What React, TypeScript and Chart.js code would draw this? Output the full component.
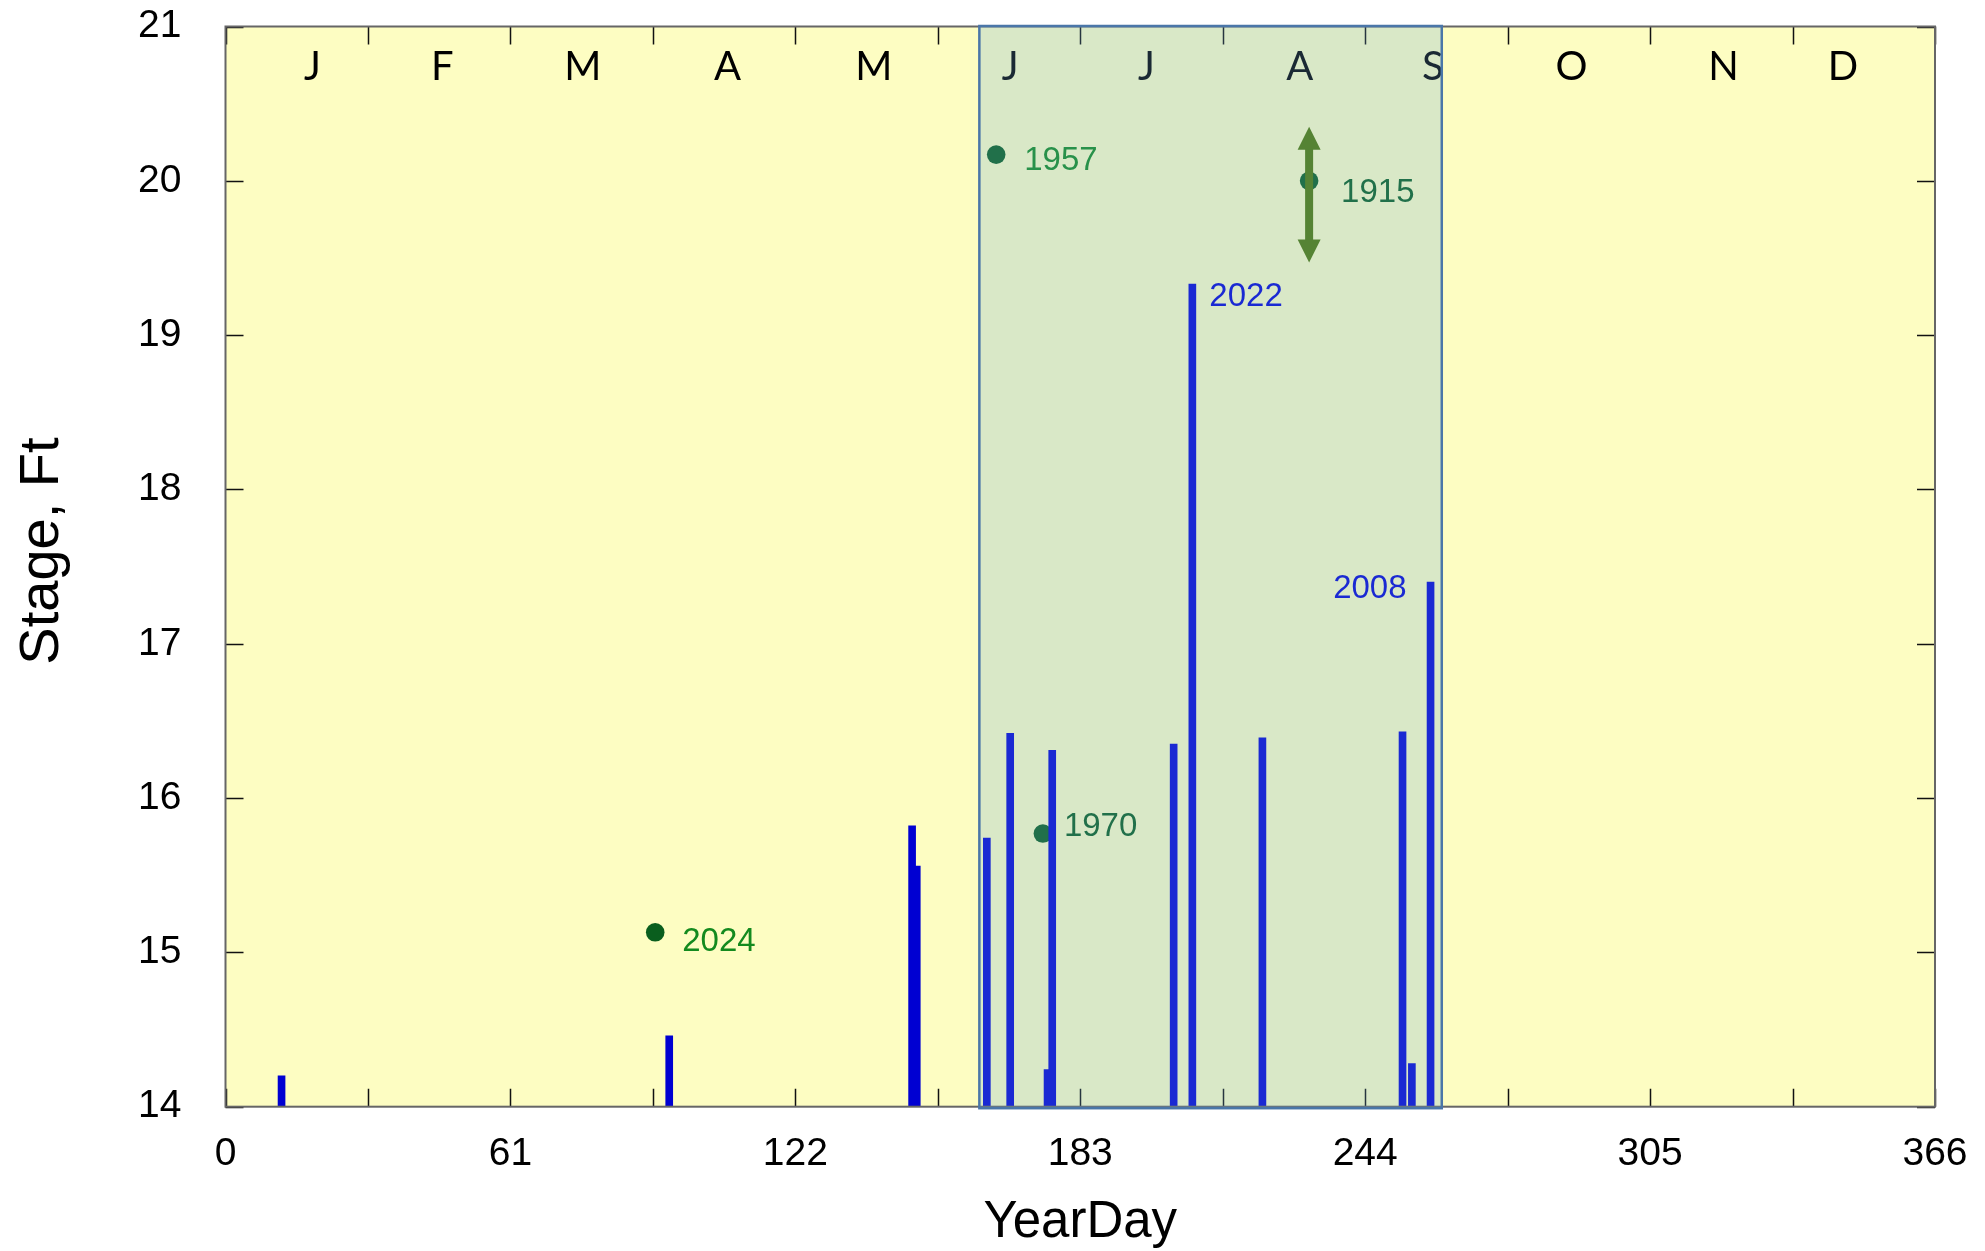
import React, { useEffect, useRef } from 'react';
import { Chart, registerables } from 'chart.js';

Chart.register(...registerables);

// ---------- data ----------
const barDays = [12, 95, 147, 148, 163, 168, 176, 177, 203, 207, 222, 252, 254, 258];
const barStages = [14.2, 14.46, 15.82, 15.56, 15.74, 16.42, 14.24, 16.31, 16.35, 19.33, 16.39, 16.43, 14.28, 17.4];

const barLabelText = ['2022', '2008'];
const barLabelDays = [207, 258];

const pointYears = ['2024', '1957', '1970', '1915'];
const pointDays = [92, 165, 175, 232];
const pointStages = [15.13, 20.17, 15.77, 20.0];

const arrowDay = 232;
const arrowHigh = 20.35;
const arrowLow = 19.47;

const shadeStart = 161.4;
const shadeEnd = 260.4;

const monthLabels = ['J', 'F', 'M', 'A', 'M', 'J', 'J', 'A', 'S', 'O', 'N', 'D'];
const monthLabelDays = [18.6, 46.4, 76.5, 107.5, 138.8, 168, 197.2, 230, 258.5, 288.2, 320.7, 346.3];

const xMin = 0;
const xMax = 366;
const xStep = 61;
const xMinorStep = 30.5;
const yMin = 14;
const yMax = 21;
const yStep = 1;

// ---------- styles ----------
const AX_FONT = '"Liberation Sans", Arial, sans-serif';
const MONTH_FONT = 'Lato, "Open Sans", sans-serif';
const PLOT_BG = '#fdfdc2';
const BAR_COLOR = '#0000d2';
const DOT_COLOR = '#0a5e1e';
const LIGHT_GREEN = '#138a1e';
const ARROW_COLOR = '#4e7700';
const SHADE_FILL = 'rgba(106,167,215,0.245)';
const SHADE_BORDER = '#4a76a8';
const FRAME_COLOR = '#666666';

// label styling: colour and pixel offset from the mark
const pointLabelColors = [LIGHT_GREEN, LIGHT_GREEN, DOT_COLOR, DOT_COLOR];
const pointLabelOffsets = [[27, 19], [28, 15], [21, 2], [32, 21]];
const barLabelOffsets = [[17, 22], [-24, 16]];
const barLabelAlign = ['left', 'right'];

const customPlugin = {
  id: 'customDecor',
  beforeDraw(chart: any) {
    const { ctx, chartArea: a } = chart;
    ctx.save();
    ctx.fillStyle = PLOT_BG;
    ctx.fillRect(a.left, a.top, a.right - a.left, a.bottom - a.top);
    ctx.restore();
  },
  afterDatasetsDraw(chart: any) {
    const { ctx, chartArea: a } = chart;
    const xs = chart.scales.x;
    const ys = chart.scales.y;
    ctx.save();

    // 1915 uncertainty arrow
    const ax = xs.getPixelForValue(arrowDay);
    const yt = ys.getPixelForValue(arrowHigh);
    const yb = ys.getPixelForValue(arrowLow);
    const head = 23;
    const hw = 11.5;
    ctx.fillStyle = ARROW_COLOR;
    ctx.fillRect(ax - 4, yt + head - 1, 8, yb - yt - 2 * head + 2);
    ctx.beginPath();
    ctx.moveTo(ax, yt);
    ctx.lineTo(ax + hw, yt + head);
    ctx.lineTo(ax - hw, yt + head);
    ctx.closePath();
    ctx.fill();
    ctx.beginPath();
    ctx.moveTo(ax, yb);
    ctx.lineTo(ax + hw, yb - head);
    ctx.lineTo(ax - hw, yb - head);
    ctx.closePath();
    ctx.fill();

    // point labels
    ctx.font = `33px ${AX_FONT}`;
    ctx.textBaseline = 'alphabetic';
    pointYears.forEach((yr, i) => {
      const px = xs.getPixelForValue(pointDays[i]);
      const py = ys.getPixelForValue(pointStages[i]);
      ctx.fillStyle = pointLabelColors[i];
      ctx.textAlign = 'left';
      ctx.fillText(yr, px + pointLabelOffsets[i][0], py + pointLabelOffsets[i][1]);
    });

    // bar labels
    barLabelText.forEach((t, i) => {
      const idx = barDays.indexOf(barLabelDays[i]);
      const px = xs.getPixelForValue(barLabelDays[i]);
      const py = ys.getPixelForValue(barStages[idx]);
      ctx.fillStyle = BAR_COLOR;
      ctx.textAlign = barLabelAlign[i];
      ctx.fillText(t, px + barLabelOffsets[i][0], py + barLabelOffsets[i][1]);
    });

    // month labels
    ctx.font = `40px ${MONTH_FONT}`;
    ctx.fillStyle = '#000';
    ctx.textAlign = 'center';
    monthLabels.forEach((m, i) => {
      ctx.fillText(m, xs.getPixelForValue(monthLabelDays[i]), a.top + 53.5);
    });
    ctx.restore();
  },
  afterDraw(chart: any) {
    const { ctx, chartArea: a } = chart;
    const xs = chart.scales.x;
    const ys = chart.scales.y;
    ctx.save();

    // inside tick marks
    const tl = 18;
    ctx.strokeStyle = '#111';
    ctx.lineWidth = 1.5;
    ctx.beginPath();
    for (let v = yMin; v <= yMax; v += yStep) {
      const py = Math.round(ys.getPixelForValue(v)) + 0.5;
      ctx.moveTo(a.left, py);
      ctx.lineTo(a.left + tl, py);
      ctx.moveTo(a.right, py);
      ctx.lineTo(a.right - tl, py);
    }
    for (let v = xMin; v <= xMax + 0.01; v += xMinorStep) {
      const px = Math.round(xs.getPixelForValue(v)) + 0.5;
      ctx.moveTo(px, a.bottom);
      ctx.lineTo(px, a.bottom - tl);
      ctx.moveTo(px, a.top);
      ctx.lineTo(px, a.top + tl);
    }
    ctx.stroke();

    // frame
    ctx.strokeStyle = FRAME_COLOR;
    ctx.lineWidth = 2;
    ctx.strokeRect(a.left, a.top, a.right - a.left, a.bottom - a.top);

    // shaded season overlay
    const sx0 = xs.getPixelForValue(shadeStart);
    const sx1 = xs.getPixelForValue(shadeEnd);
    const sy0 = a.top - 0.5;
    const sy1 = a.bottom + 1.5;
    ctx.fillStyle = SHADE_FILL;
    ctx.fillRect(sx0, sy0, sx1 - sx0, sy1 - sy0);
    ctx.strokeStyle = SHADE_BORDER;
    ctx.lineWidth = 2.5;
    ctx.strokeRect(sx0, sy0, sx1 - sx0, sy1 - sy0);
    ctx.restore();
  },
};

export default function App() {
  const canvasRef = useRef<HTMLCanvasElement>(null);

  useEffect(() => {
    const canvas = canvasRef.current;
    if (!canvas) return;
    const chart = new Chart(canvas, {
      type: 'bar',
      data: {
        datasets: [
          {
            type: 'bar',
            label: 'Stage',
            data: barDays.map((d, i) => ({ x: d, y: barStages[i] })),
            backgroundColor: BAR_COLOR,
            borderWidth: 0,
            barThickness: 7,
            base: yMin,
            order: 0,
          } as any,
          {
            type: 'scatter',
            label: 'Historic',
            data: pointDays.map((d, i) => ({ x: d, y: pointStages[i] })),
            pointRadius: 9.3,
            pointBackgroundColor: DOT_COLOR,
            pointBorderWidth: 0,
            order: 1,
          } as any,
        ],
      },
      options: {
        animation: false,
        responsive: true,
        maintainAspectRatio: false,
        layout: { padding: { top: 26.5, right: 50, left: 0, bottom: 0 } },
        plugins: {
          legend: { display: false },
          tooltip: { enabled: false },
        },
        scales: {
          x: {
            type: 'linear',
            min: xMin,
            max: xMax,
            offset: false,
            grid: { display: false, drawTicks: false },
            border: { display: false },
            ticks: {
              stepSize: xStep,
              autoSkip: false,
              maxRotation: 0,
              padding: 24,
              color: '#000',
              font: { family: AX_FONT, size: 39 },
            },
            title: {
              display: true,
              text: 'YearDay',
              color: '#000',
              font: { family: AX_FONT, size: 51, lineHeight: 1 },
              padding: { top: 0, bottom: 3 },
            },
            afterFit: (s: any) => {
              s.height = 144.3;
              s.paddingLeft = 0;
              s.paddingRight = 0;
            },
          },
          y: {
            type: 'linear',
            min: yMin,
            max: yMax,
            grid: { display: false, drawTicks: false },
            border: { display: false },
            ticks: {
              stepSize: yStep,
              padding: 44,
              color: '#000',
              font: { family: AX_FONT, size: 39 },
            },
            title: {
              display: true,
              text: '\u00a0\u00a0Stage, Ft',
              color: '#000',
              font: { family: AX_FONT, size: 56, lineHeight: 1 },
              padding: { top: 14.3, bottom: 0 },
            },
            afterFit: (s: any) => {
              s.width = 225.5;
              s.paddingTop = 0;
              s.paddingBottom = 0;
            },
          },
        },
      } as any,
      plugins: [customPlugin as any],
    });
    return () => chart.destroy();
  }, []);

  return (
    <div style={{ position: 'fixed', left: 0, top: 0, width: 1985, height: 1251, background: '#fff' }}>
      <canvas ref={canvasRef} />
    </div>
  );
}
